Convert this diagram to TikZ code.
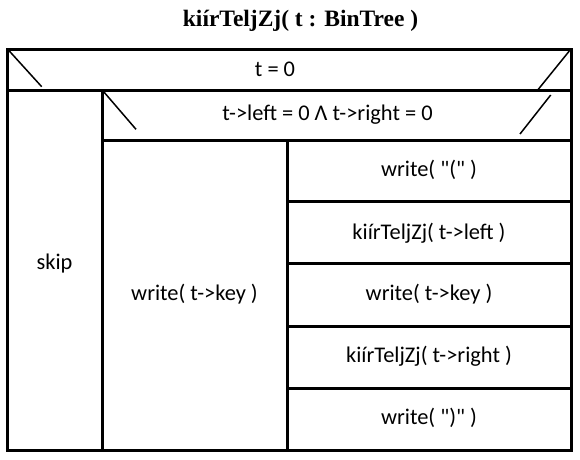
\documentclass[tikz,border=0pt]{standalone}
\usepackage{fontspec}
\setmainfont{Carlito}[Ligatures=TeXOff]
\newfontfamily\titlefont{Liberation Serif}
\begin{document}
\begin{tikzpicture}[x=1pt,y=-1pt,
  txt/.style={anchor=base,inner sep=0pt,font=\fontsize{22.4}{26}\selectfont},
  ttl/.style={anchor=base,inner sep=0pt,font=\titlefont\bfseries\fontsize{23.5}{28}\selectfont},
  frame/.style={line width=3pt},
  diag/.style={line width=1.5pt}]
\useasboundingbox (0,0) rectangle (580,459);
% frame lines
\draw[frame] (7,49) rectangle (571,450);
\draw[frame] (7,90) -- (571,90);
\draw[frame] (102,90) -- (102,450);
\draw[frame] (102,140) -- (571,140);
\draw[frame] (287,140) -- (287,450);
\draw[frame] (287,201) -- (571,201);
\draw[frame] (287,263.5) -- (571,263.5);
\draw[frame] (287,326) -- (571,326);
\draw[frame] (287,388) -- (571,388);
% diagonals
\draw[diag] (9.3,51) -- (41.7,86.7);
\draw[diag] (569.3,51) -- (538.3,89.3);
\draw[diag] (103.5,91.5) -- (136,129.3);
\draw[diag] (550.7,95) -- (520,134);
% texts
\node[ttl] (title) at (300.5,26.7) {kiírTeljZj( t : BinTree )};
\node[txt] (c1) at (275,76.7) {t = 0};
\node[txt] (c2) at (327.5,120) {t->left = 0 Λ t->right = 0};
\node[txt] (skip) at (54.5,269) {skip};
\node[txt] (key) at (194.5,300) {write( t->key )};
\node[txt] (w1) at (429,176.7) {write( "(" )};
\node[txt] (r1) at (429,239.3) {kiírTeljZj( t->left )};
\node[txt] (w2) at (429,300.5) {write( t->key )};
\node[txt] (r2) at (429,362) {kiírTeljZj( t->right )};
\node[txt] (w3) at (429,424.3) {write( ")" )};
\end{tikzpicture}
\end{document}
